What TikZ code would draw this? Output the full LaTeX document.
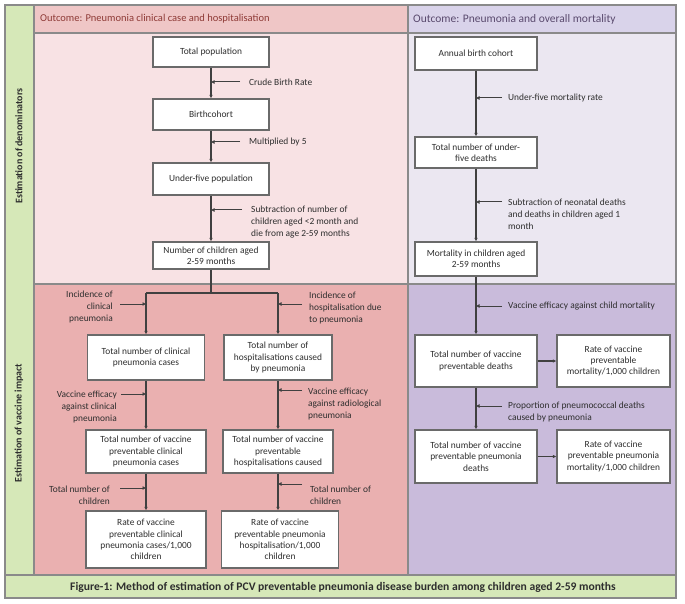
\documentclass[tikz,border=0pt]{standalone}
\usepackage{fontspec}
\setmainfont{Carlito}
\usetikzlibrary{arrows.meta}
\definecolor{gr}{HTML}{D6E8B8}
\definecolor{pkh}{HTML}{EFC6C6}
\definecolor{pku}{HTML}{F8E2E4}
\definecolor{pkl}{HTML}{EAB0B0}
\definecolor{puh}{HTML}{D9D3EA}
\definecolor{puu}{HTML}{EBE7F1}
\definecolor{pul}{HTML}{C9BBDB}
\definecolor{grid}{HTML}{8A8A8A}
\definecolor{bx}{HTML}{6A6A6A}
\definecolor{ln}{HTML}{404040}
\definecolor{txt}{HTML}{2E2E2E}
\definecolor{hred}{HTML}{8E3A36}
\definecolor{hpur}{HTML}{5A4A6E}
\tikzset{
  boxn/.style={draw=bx, line width=1.3pt, fill=white, align=center, text=txt,
    font=\fontsize{9.4}{11.3}\selectfont, inner sep=1pt},
  lab/.style={align=left, anchor=west, text=txt, font=\fontsize{9.4}{12}\selectfont, inner sep=0pt},
  labr/.style={align=right, anchor=east, text=txt, font=\fontsize{9.4}{12}\selectfont, inner sep=0pt},
  flow/.style={draw=ln, line width=1.1pt, -{Latex[length=3.5pt,width=3.5pt]}},
  side/.style={draw=ln, line width=1pt, -{Latex[length=3.5pt,width=4pt]}},
  plain/.style={draw=ln, line width=1.1pt},
  panel/.style={draw=grid, line width=1.4pt}
}
\begin{document}
\begin{tikzpicture}[x=1pt,y=-1pt]
\useasboundingbox (0,0) rectangle (685,604);
% panels
\fill[white] (0,0) rectangle (685,604);
\path[panel, fill=gr] (5,5) rectangle (676,598);
\path[panel, fill=pkh] (34,5) rectangle (408,33);
\path[panel, fill=puh] (408,5) rectangle (676,33);
\path[panel, fill=pku] (34,33) rectangle (408,284);
\path[panel, fill=pkl] (34,284) rectangle (408,575);
\path[panel, fill=puu] (408,33) rectangle (676,284);
\path[panel, fill=pul] (408,284) rectangle (676,575);
\path[panel] (5,575) rectangle (676,598);
% headers
\node[anchor=west, text=hred, font=\fontsize{10.5}{12}\selectfont, inner sep=0pt] (h1) at (40,19) {Outcome: Pneumonia clinical case and hospitalisation};
\node[anchor=west, text=hpur, font=\fontsize{11.5}{13}\selectfont, inner sep=0pt] (h2) at (413,19) {Outcome: Pneumonia and overall mortality};
\node[rotate=90, text=txt, font=\fontsize{10}{12}\selectfont\bfseries] (v1) at (19,146) {Estimation of denominators};
\node[rotate=90, text=txt, font=\fontsize{10}{12}\selectfont\bfseries] (v2) at (19,423) {Estimation of vaccine impact};
\node[text=txt, font=\fontsize{11.6}{13}\selectfont\bfseries] (cap) at (343,587) {Figure-1: Method of estimation of PCV preventable pneumonia disease burden among children aged 2-59 months};

% upper left column
\node[boxn, minimum width=116pt, minimum height=30pt] (tp) at (211,52) {Total population};
\node[boxn, minimum width=116pt, minimum height=31pt] (bc) at (211,114.5) {Birthcohort};
\node[boxn, minimum width=116pt, minimum height=32pt] (u5) at (211,179) {Under-five population};
\node[boxn, minimum width=116pt, minimum height=27pt] (n259) at (211,255.5) {Number of children aged\\2-59 months};
\draw[flow] (tp) -- (bc);
\draw[flow] (bc) -- (u5);
\draw[flow] (u5) -- (n259);
\coordinate (c1) at (211,82); \coordinate (c1e) at (240,82);
\coordinate (c2) at (211,142); \coordinate (c2e) at (240,142);
\coordinate (c3) at (211,210); \coordinate (c3e) at (242,210);
\draw[side] (c1e) -- (c1);
\draw[side] (c2e) -- (c2);
\draw[side] (c3e) -- (c3);
\node[lab] (l1) at (249,82) {Crude Birth Rate};
\node[lab] (l2) at (249,142) {Multiplied by 5};
\node[lab] (l3) at (251,222) {Subtraction of number of\\children aged <2 month and\\die from age 2-59 months};

% upper right column
\node[boxn, minimum width=122pt, minimum height=33pt] (abc) at (476,53.5) {Annual birth cohort};
\node[boxn, minimum width=122pt, minimum height=31pt] (tu5) at (476,152.5) {Total number of under-\\five deaths};
\node[boxn, minimum width=122pt, minimum height=34pt] (m259) at (476,259) {Mortality in children aged\\2-59 months};
\draw[flow] (abc) -- (tu5);
\draw[flow] (tu5) -- (m259);
\coordinate (r1) at (476,98); \coordinate (r1e) at (502,98);
\coordinate (r2) at (476,202); \coordinate (r2e) at (502,202);
\draw[side] (r1e) -- (r1);
\draw[side] (r2e) -- (r2);
\node[lab] (rl1) at (508,98) {Under-five mortality rate};
\node[lab] (rl2) at (508,214) {Subtraction of neonatal deaths\\and deaths in children aged 1\\month};

% lower right column
\node[boxn, minimum width=122pt, minimum height=52pt] (tvpd) at (476,361) {Total number of vaccine\\preventable deaths};
\node[boxn, minimum width=113pt, minimum height=52pt] (rvpm) at (613.5,361) {Rate of vaccine\\preventable\\mortality/1,000 children};
\node[boxn, minimum width=122pt, minimum height=53pt] (tvppd) at (476,456.5) {Total number of vaccine\\preventable pneumonia\\deaths};
\node[boxn, minimum width=113pt, minimum height=53pt] (rvppm) at (613.5,456.5) {Rate of vaccine\\preventable pneumonia\\mortality/1,000 children};
\draw[flow] (m259) -- (tvpd);
\draw[flow] (tvpd) -- (tvppd);
\draw[flow] (tvpd) -- (rvpm);
\draw[flow] (tvppd) -- (rvppm);
\coordinate (r3) at (476,306); \coordinate (r3e) at (502,306);
\coordinate (r4) at (476,406); \coordinate (r4e) at (502,406);
\draw[side] (r3e) -- (r3);
\draw[side] (r4e) -- (r4);
\node[lab] (rl3) at (508,306) {Vaccine efficacy against child mortality};
\node[lab] (rl4) at (508,412) {Proportion of pneumococcal deaths\\caused by pneumonia};

% lower left columns
\node[boxn, minimum width=117pt, minimum height=45pt] (tcpc) at (146,357.5) {Total number of clinical\\pneumonia cases};
\node[boxn, minimum width=108pt, minimum height=45pt] (thcp) at (278,357.5) {Total number of\\hospitalisations caused\\by pneumonia};
\node[boxn, minimum width=120pt, minimum height=43pt] (tvc) at (146,451.5) {Total number of vaccine\\preventable clinical\\pneumonia cases};
\node[boxn, minimum width=110pt, minimum height=43pt] (tvh) at (278,451.5) {Total number of vaccine\\preventable\\hospitalisations caused};
\node[boxn, minimum width=120pt, minimum height=57pt] (rvc) at (146,539.5) {Rate of vaccine\\preventable clinical\\pneumonia cases/1,000\\children};
\node[boxn, minimum width=117pt, minimum height=57pt] (rvh) at (280,539.5) {Rate of vaccine\\preventable pneumonia\\hospitalisation/1,000\\children};
\coordinate (sp) at (211,293);
\coordinate (spl) at (146,293);
\coordinate (spr) at (278,293);
\draw[plain] (n259.south) -- (sp);
\draw[plain] (spl) -- (spr);
\draw[flow] (spl) -- (tcpc.north);
\draw[flow] (spr) -- (thcp.north);
\draw[flow] (tcpc) -- (tvc);
\draw[flow] (thcp) -- (tvh);
\draw[flow] (tvc) -- (rvc);
\draw[flow] (tvh.south) -- (tvh.south |- rvh.north);
% left side labels
\coordinate (a1) at (146,304); \coordinate (a1e) at (120,304);
\coordinate (a2) at (146,394); \coordinate (a2e) at (121,394);
\coordinate (a3) at (146,488); \coordinate (a3e) at (120,488);
\draw[side] (a1e) -- (a1);
\draw[side] (a2e) -- (a2);
\draw[side] (a3e) -- (a3);
\node[labr] (al1) at (113,307) {Incidence of\\clinical\\pneumonia};
\node[labr] (al2) at (117,407) {Vaccine efficacy\\against clinical\\pneumonia};
\node[labr] (al3) at (110,495) {Total number of\\children};
% right side labels
\coordinate (b1) at (278,304); \coordinate (b1e) at (302,304);
\coordinate (b2) at (278,390); \coordinate (b2e) at (302,390);
\coordinate (b3) at (278,484); \coordinate (b3e) at (302,484);
\draw[side] (b1e) -- (b1);
\draw[side] (b2e) -- (b2);
\draw[side] (b3e) -- (b3);
\node[lab] (bl1) at (309,308) {Incidence of\\hospitalisation due\\to pneumonia};
\node[lab] (bl2) at (308,404) {Vaccine efficacy\\against radiological\\pneumonia};
\node[lab] (bl3) at (310,495) {Total number of\\children};
\end{tikzpicture}
\end{document}
